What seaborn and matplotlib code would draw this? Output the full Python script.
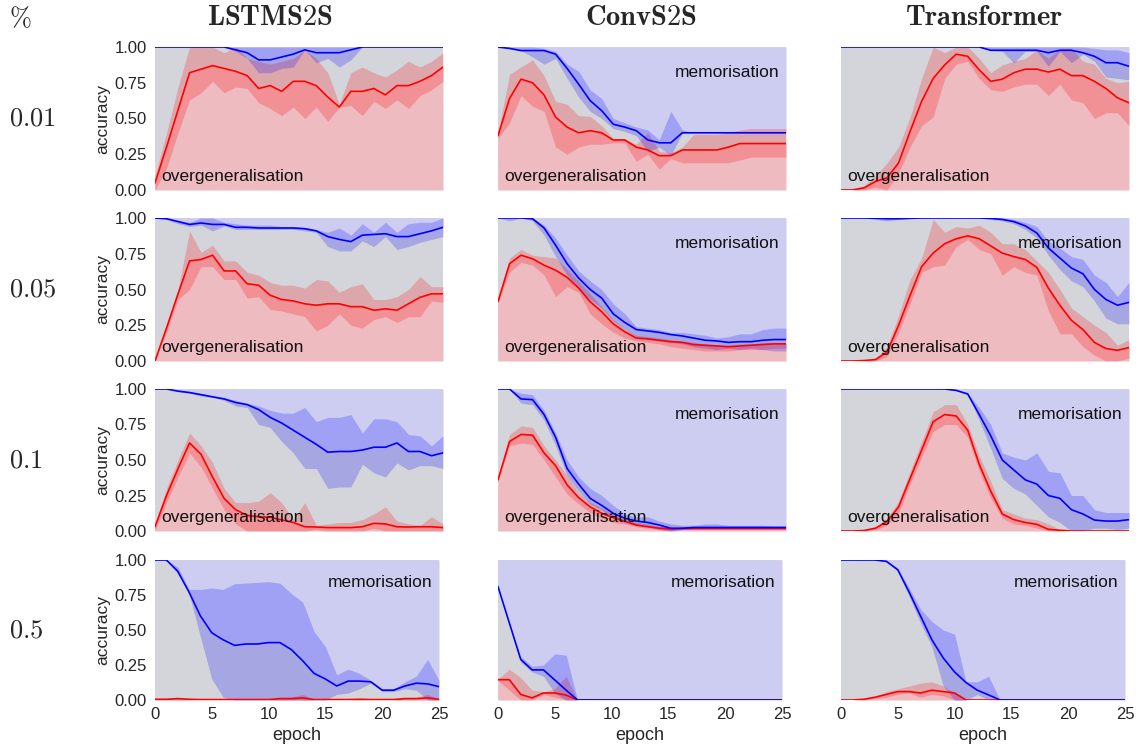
import numpy as np
import pandas as pd
import matplotlib
matplotlib.use('Agg')
import matplotlib.pyplot as plt
import seaborn as sns

sns.set_style('white')
plt.rcParams['font.family'] = ['Liberation Sans', 'DejaVu Sans']
plt.rcParams['mathtext.fontset'] = 'cm'

epochs = list(range(26))
models = ['lstm', 'conv', 'trans']
model_titles = ['LSTMS2S', 'ConvS2S', 'Transformer']
pcts = ['p001', 'p005', 'p01', 'p05']
pct_labels = ['0.01', '0.05', '0.1', '0.5']
yticks = [0.0, 0.25, 0.5, 0.75, 1.0]
ytick_labels = ['0.00', '0.25', '0.50', '0.75', '1.00']
xticks = [0, 5, 10, 15, 20, 25]

# ---- LSTMS2S ----
lstm_p001_over = [0.05, 0.30, 0.56, 0.82, 0.845, 0.87, 0.85, 0.83, 0.80, 0.71, 0.73, 0.69, 0.76, 0.76, 0.73, 0.65, 0.58, 0.69, 0.69, 0.71, 0.665, 0.73, 0.73, 0.76, 0.80, 0.86]
lstm_p001_over_lo = [0.0, 0.15, 0.40, 0.63, 0.68, 0.76, 0.68, 0.72, 0.71, 0.61, 0.57, 0.52, 0.58, 0.50, 0.58, 0.48, 0.58, 0.59, 0.52, 0.62, 0.57, 0.63, 0.57, 0.66, 0.70, 0.76]
lstm_p001_over_hi = [0.10, 0.40, 0.72, 1.0, 1.0, 1.0, 0.96, 1.0, 0.92, 0.90, 0.88, 0.90, 0.92, 0.98, 0.92, 0.82, 0.60, 0.82, 0.86, 0.82, 0.79, 0.84, 0.90, 0.86, 0.90, 0.96]
lstm_p001_mem = [1.0, 1.0, 1.0, 1.0, 1.0, 1.0, 1.0, 0.98, 0.96, 0.91, 0.91, 0.93, 0.95, 0.98, 0.96, 0.96, 0.96, 0.98, 1.0, 1.0, 1.0, 1.0, 1.0, 1.0, 1.0, 1.0]
lstm_p001_mem_lo = [1.0, 1.0, 1.0, 1.0, 1.0, 1.0, 1.0, 0.97, 0.92, 0.82, 0.82, 0.85, 0.86, 0.98, 0.89, 0.92, 0.86, 0.91, 1.0, 1.0, 1.0, 1.0, 1.0, 1.0, 1.0, 1.0]
lstm_p001_mem_hi = [1.0] * 26

lstm_p005_over = [0.0, 0.23, 0.47, 0.70, 0.71, 0.74, 0.63, 0.63, 0.54, 0.53, 0.46, 0.43, 0.42, 0.40, 0.39, 0.40, 0.40, 0.38, 0.38, 0.355, 0.365, 0.355, 0.40, 0.445, 0.47, 0.47]
lstm_p005_over_lo = [0.0, 0.20, 0.43, 0.50, 0.66, 0.66, 0.57, 0.57, 0.44, 0.45, 0.36, 0.35, 0.33, 0.31, 0.21, 0.25, 0.33, 0.25, 0.23, 0.29, 0.31, 0.27, 0.31, 0.31, 0.42, 0.41]
lstm_p005_over_hi = [0.0, 0.25, 0.50, 0.91, 0.76, 0.81, 0.70, 0.70, 0.62, 0.60, 0.55, 0.53, 0.53, 0.51, 0.57, 0.56, 0.48, 0.52, 0.54, 0.43, 0.43, 0.45, 0.50, 0.59, 0.52, 0.52]
lstm_p005_mem = [1.0, 0.995, 0.975, 0.955, 0.965, 0.955, 0.955, 0.935, 0.935, 0.93, 0.93, 0.93, 0.93, 0.925, 0.91, 0.87, 0.85, 0.835, 0.88, 0.885, 0.89, 0.87, 0.87, 0.89, 0.91, 0.935]
lstm_p005_mem_lo = [1.0, 0.99, 0.96, 0.94, 0.95, 0.91, 0.945, 0.92, 0.92, 0.92, 0.92, 0.92, 0.92, 0.91, 0.90, 0.80, 0.77, 0.77, 0.84, 0.80, 0.87, 0.78, 0.80, 0.83, 0.85, 0.87]
lstm_p005_mem_hi = [1.0, 1.0, 0.985, 0.97, 1.0, 1.0, 0.97, 0.96, 0.95, 0.95, 0.95, 0.94, 0.94, 0.935, 0.92, 0.90, 0.93, 0.88, 0.96, 0.90, 0.97, 0.90, 0.96, 0.97, 0.97, 1.0]

lstm_p01_over = [0.03, 0.25, 0.44, 0.62, 0.54, 0.38, 0.23, 0.15, 0.11, 0.10, 0.097, 0.078, 0.06, 0.03, 0.028, 0.024, 0.024, 0.024, 0.03, 0.054, 0.05, 0.03, 0.028, 0.03, 0.03, 0.024]
lstm_p01_over_lo = [0.0, 0.20, 0.38, 0.55, 0.45, 0.30, 0.15, 0.05, 0.0, 0.0, 0.0, 0.0, 0.0, 0.0, 0.01, 0.0, 0.0, 0.0, 0.0, 0.02, 0.0, 0.0, 0.0, 0.0, 0.0, 0.0]
lstm_p01_over_hi = [0.05, 0.30, 0.50, 0.69, 0.60, 0.48, 0.30, 0.20, 0.20, 0.21, 0.27, 0.20, 0.08, 0.20, 0.04, 0.05, 0.06, 0.06, 0.08, 0.12, 0.17, 0.07, 0.05, 0.04, 0.10, 0.05]
lstm_p01_mem = [1.0, 1.0, 0.985, 0.975, 0.96, 0.945, 0.93, 0.905, 0.89, 0.855, 0.80, 0.76, 0.71, 0.66, 0.61, 0.555, 0.56, 0.56, 0.57, 0.59, 0.59, 0.62, 0.56, 0.56, 0.53, 0.55]
lstm_p01_mem_lo = [1.0, 1.0, 0.98, 0.97, 0.95, 0.94, 0.92, 0.88, 0.87, 0.75, 0.73, 0.63, 0.55, 0.44, 0.44, 0.30, 0.31, 0.31, 0.47, 0.41, 0.38, 0.48, 0.43, 0.46, 0.46, 0.44]
lstm_p01_mem_hi = [1.0, 1.0, 0.99, 0.98, 0.97, 0.95, 0.94, 0.92, 0.90, 0.88, 0.85, 0.83, 0.83, 0.87, 0.77, 0.80, 0.80, 0.82, 0.69, 0.79, 0.79, 0.77, 0.68, 0.67, 0.60, 0.67]

lstm_p05_over = [0.005, 0.005, 0.01, 0.005, 0.003, 0.003, 0.003, 0.003, 0.003, 0.003, 0.003, 0.01, 0.01, 0.015, 0.003, 0.003, 0.003, 0.003, 0.005, 0.003, 0.003, 0.003, 0.01, 0.01, 0.015, 0.005]
lstm_p05_over_lo = [0.0] * 26
lstm_p05_over_hi = [0.01, 0.01, 0.02, 0.01, 0.005, 0.005, 0.005, 0.005, 0.005, 0.005, 0.005, 0.015, 0.02, 0.04, 0.005, 0.005, 0.005, 0.005, 0.01, 0.005, 0.005, 0.005, 0.015, 0.02, 0.04, 0.01]
lstm_p05_mem = [1.0, 1.0, 0.92, 0.77, 0.60, 0.48, 0.43, 0.39, 0.40, 0.40, 0.41, 0.41, 0.36, 0.28, 0.19, 0.15, 0.10, 0.135, 0.135, 0.13, 0.07, 0.07, 0.10, 0.12, 0.115, 0.095]
lstm_p05_mem_lo = [1.0, 1.0, 0.90, 0.76, 0.45, 0.15, 0.02, 0.0, 0.0, 0.0, 0.0, 0.0, 0.0, 0.0, 0.0, 0.0, 0.04, 0.05, 0.08, 0.12, 0.06, 0.06, 0.08, 0.07, 0.0, 0.0]
lstm_p05_mem_hi = [1.0, 1.0, 0.95, 0.79, 0.79, 0.80, 0.79, 0.83, 0.835, 0.84, 0.845, 0.835, 0.76, 0.70, 0.49, 0.38, 0.18, 0.22, 0.19, 0.14, 0.08, 0.08, 0.13, 0.17, 0.29, 0.14]

# ---- ConvS2S ----
conv_p001_over = [0.38, 0.64, 0.775, 0.75, 0.665, 0.51, 0.44, 0.40, 0.415, 0.40, 0.35, 0.35, 0.30, 0.28, 0.24, 0.24, 0.28, 0.28, 0.28, 0.28, 0.30, 0.325, 0.325, 0.325, 0.325, 0.325]
conv_p001_over_lo = [0.36, 0.47, 0.66, 0.585, 0.55, 0.30, 0.25, 0.30, 0.32, 0.32, 0.33, 0.33, 0.20, 0.25, 0.145, 0.22, 0.19, 0.19, 0.19, 0.19, 0.19, 0.21, 0.23, 0.23, 0.23, 0.23]
conv_p001_over_hi = [0.40, 0.81, 0.86, 0.91, 0.80, 0.62, 0.60, 0.52, 0.515, 0.45, 0.36, 0.36, 0.32, 0.40, 0.27, 0.26, 0.30, 0.39, 0.39, 0.39, 0.40, 0.42, 0.43, 0.43, 0.43, 0.43]
conv_p001_mem = [1.0, 0.99, 0.975, 0.975, 0.975, 0.95, 0.85, 0.74, 0.625, 0.555, 0.46, 0.44, 0.415, 0.35, 0.33, 0.33, 0.40, 0.40, 0.40, 0.40, 0.40, 0.40, 0.40, 0.40, 0.40, 0.40]
conv_p001_mem_lo = [1.0, 0.99, 0.975, 0.93, 0.88, 0.92, 0.78, 0.65, 0.55, 0.50, 0.43, 0.41, 0.38, 0.27, 0.30, 0.24, 0.40, 0.40, 0.40, 0.40, 0.40, 0.40, 0.40, 0.40, 0.40, 0.40]
conv_p001_mem_hi = [1.0, 1.0, 1.0, 1.0, 0.99, 0.97, 0.88, 0.83, 0.70, 0.64, 0.50, 0.47, 0.44, 0.42, 0.35, 0.55, 0.42, 0.40, 0.40, 0.40, 0.40, 0.40, 0.40, 0.40, 0.40, 0.40]

conv_p005_over = [0.415, 0.68, 0.74, 0.715, 0.67, 0.635, 0.585, 0.51, 0.415, 0.345, 0.26, 0.205, 0.16, 0.155, 0.145, 0.135, 0.13, 0.115, 0.11, 0.105, 0.10, 0.105, 0.11, 0.115, 0.12, 0.12]
conv_p005_over_lo = [0.41, 0.62, 0.69, 0.67, 0.60, 0.45, 0.52, 0.48, 0.33, 0.26, 0.20, 0.16, 0.14, 0.13, 0.12, 0.10, 0.09, 0.08, 0.07, 0.07, 0.07, 0.08, 0.08, 0.08, 0.09, 0.09]
conv_p005_over_hi = [0.42, 0.72, 0.78, 0.74, 0.73, 0.72, 0.64, 0.56, 0.47, 0.38, 0.29, 0.22, 0.18, 0.17, 0.16, 0.15, 0.14, 0.13, 0.12, 0.11, 0.11, 0.12, 0.12, 0.13, 0.13, 0.13]
conv_p005_mem = [1.0, 1.0, 1.0, 0.995, 0.93, 0.81, 0.68, 0.58, 0.50, 0.44, 0.33, 0.27, 0.22, 0.21, 0.20, 0.185, 0.175, 0.16, 0.145, 0.14, 0.13, 0.135, 0.135, 0.145, 0.15, 0.15]
conv_p005_mem_lo = [1.0, 0.98, 1.0, 0.98, 0.88, 0.73, 0.60, 0.50, 0.43, 0.37, 0.28, 0.22, 0.17, 0.15, 0.14, 0.13, 0.12, 0.10, 0.09, 0.08, 0.09, 0.08, 0.09, 0.08, 0.07, 0.07]
conv_p005_mem_hi = [1.0, 1.0, 1.0, 1.0, 0.95, 0.86, 0.74, 0.63, 0.56, 0.50, 0.40, 0.33, 0.24, 0.23, 0.22, 0.20, 0.20, 0.19, 0.18, 0.16, 0.17, 0.19, 0.19, 0.22, 0.23, 0.23]

conv_p01_over = [0.36, 0.63, 0.68, 0.675, 0.55, 0.46, 0.325, 0.235, 0.17, 0.125, 0.094, 0.07, 0.042, 0.03, 0.02, 0.014, 0.018, 0.018, 0.018, 0.018, 0.018, 0.018, 0.018, 0.018, 0.018, 0.018]
conv_p01_over_lo = [0.35, 0.60, 0.62, 0.61, 0.50, 0.38, 0.26, 0.19, 0.13, 0.09, 0.06, 0.05, 0.03, 0.02, 0.01, 0.0, 0.01, 0.01, 0.01, 0.01, 0.01, 0.01, 0.01, 0.01, 0.01, 0.01]
conv_p01_over_hi = [0.37, 0.68, 0.74, 0.73, 0.60, 0.50, 0.39, 0.27, 0.20, 0.16, 0.12, 0.08, 0.06, 0.05, 0.03, 0.03, 0.025, 0.025, 0.025, 0.025, 0.025, 0.025, 0.025, 0.025, 0.025, 0.025]
conv_p01_mem = [1.0, 1.0, 0.93, 0.925, 0.82, 0.66, 0.44, 0.33, 0.23, 0.18, 0.125, 0.09, 0.07, 0.06, 0.042, 0.019, 0.019, 0.025, 0.025, 0.025, 0.025, 0.025, 0.025, 0.025, 0.025, 0.025]
conv_p01_mem_lo = [1.0, 1.0, 0.90, 0.89, 0.78, 0.60, 0.39, 0.28, 0.19, 0.15, 0.09, 0.06, 0.04, 0.03, 0.01, 0.0, 0.01, 0.015, 0.015, 0.015, 0.015, 0.015, 0.015, 0.015, 0.015, 0.015]
conv_p01_mem_hi = [1.0, 1.0, 0.97, 0.96, 0.85, 0.69, 0.50, 0.38, 0.30, 0.25, 0.18, 0.12, 0.10, 0.10, 0.07, 0.05, 0.04, 0.04, 0.05, 0.05, 0.04, 0.04, 0.04, 0.04, 0.035, 0.035]

conv_p05_over = [0.145, 0.145, 0.04, 0.015, 0.05, 0.05, 0.035] + [0.0] * 19
conv_p05_over_lo = [0.14, 0.07, 0.0, 0.0, 0.04, 0.02, 0.0] + [0.0] * 19
conv_p05_over_hi = [0.15, 0.22, 0.16, 0.07, 0.06, 0.08, 0.17] + [0.0] * 19
conv_p05_mem = [0.81, 0.55, 0.29, 0.215, 0.215, 0.143, 0.07] + [0.0] * 19
conv_p05_mem_lo = [0.81, 0.55, 0.27, 0.20, 0.17, 0.05, 0.0] + [0.0] * 19
conv_p05_mem_hi = [0.81, 0.55, 0.31, 0.24, 0.25, 0.33, 0.32] + [0.0] * 19

# ---- Transformer ----
trans_p001_over = [0.0, 0.0, 0.015, 0.06, 0.085, 0.19, 0.41, 0.62, 0.78, 0.875, 0.95, 0.935, 0.84, 0.76, 0.775, 0.82, 0.845, 0.845, 0.825, 0.845, 0.80, 0.80, 0.76, 0.71, 0.645, 0.61]
trans_p001_over_lo = [0.0, 0.0, 0.0, 0.02, 0.0, 0.12, 0.30, 0.45, 0.51, 0.78, 0.88, 0.90, 0.78, 0.70, 0.69, 0.72, 0.74, 0.74, 0.66, 0.74, 0.63, 0.61, 0.50, 0.54, 0.54, 0.45]
trans_p001_over_hi = [0.0, 0.01, 0.03, 0.10, 0.19, 0.30, 0.51, 0.78, 1.0, 0.96, 1.0, 1.0, 0.92, 0.82, 0.875, 0.90, 0.92, 0.98, 0.92, 0.99, 0.99, 0.90, 0.88, 0.78, 0.75, 0.76]
trans_p001_mem = [1.0] * 13 + [0.977, 0.977, 0.977, 0.977, 0.977, 0.96, 0.977, 0.977, 0.96, 0.935, 0.89, 0.89, 0.865]
trans_p001_mem_lo = [1.0] * 13 + [0.975, 0.97, 0.89, 0.97, 0.97, 0.865, 0.97, 0.89, 0.95, 0.90, 0.79, 0.78, 0.77]
trans_p001_mem_hi = [1.0] * 22 + [0.99, 0.98, 0.98, 0.96]

trans_p005_over = [0.0, 0.0, 0.003, 0.01, 0.063, 0.25, 0.46, 0.66, 0.755, 0.82, 0.855, 0.875, 0.855, 0.805, 0.755, 0.73, 0.71, 0.655, 0.51, 0.39, 0.285, 0.22, 0.13, 0.087, 0.075, 0.094]
trans_p005_over_lo = [0.0, 0.0, 0.0, 0.0, 0.03, 0.20, 0.40, 0.62, 0.66, 0.67, 0.80, 0.85, 0.78, 0.75, 0.60, 0.66, 0.62, 0.60, 0.35, 0.19, 0.19, 0.10, 0.04, 0.0, 0.0, 0.02]
trans_p005_over_hi = [0.0, 0.0, 0.005, 0.02, 0.10, 0.32, 0.57, 0.72, 0.99, 0.90, 0.94, 0.93, 0.95, 0.90, 0.82, 0.82, 0.78, 0.70, 0.62, 0.50, 0.37, 0.31, 0.25, 0.20, 0.11, 0.15]
trans_p005_mem = [1.0, 1.0, 1.0, 0.998, 0.995, 0.995, 0.998, 1.0, 1.0, 1.0, 1.0, 1.0, 1.0, 0.997, 0.99, 0.975, 0.945, 0.895, 0.79, 0.72, 0.65, 0.61, 0.50, 0.43, 0.39, 0.41]
trans_p005_mem_lo = [1.0, 1.0, 1.0, 0.99, 0.98, 0.99, 0.995, 1.0, 1.0, 1.0, 1.0, 1.0, 1.0, 0.99, 0.98, 0.96, 0.92, 0.86, 0.74, 0.64, 0.56, 0.52, 0.42, 0.30, 0.26, 0.26]
trans_p005_mem_hi = [1.0] * 15 + [0.99, 0.97, 0.94, 0.84, 0.79, 0.73, 0.71, 0.60, 0.55, 0.45, 0.55]

trans_p01_over = [0.0, 0.0, 0.003, 0.02, 0.066, 0.17, 0.37, 0.57, 0.77, 0.82, 0.81, 0.71, 0.47, 0.28, 0.12, 0.08, 0.06, 0.047, 0.012, 0.005, 0.0, 0.0, 0.0, 0.0, 0.0, 0.0]
trans_p01_over_lo = [0.0, 0.0, 0.0, 0.01, 0.04, 0.13, 0.33, 0.52, 0.70, 0.75, 0.75, 0.66, 0.42, 0.23, 0.09, 0.05, 0.04, 0.02, 0.0, 0.0, 0.0, 0.0, 0.0, 0.0, 0.0, 0.0]
trans_p01_over_hi = [0.0, 0.0, 0.005, 0.03, 0.09, 0.21, 0.42, 0.63, 0.84, 0.89, 0.89, 0.75, 0.53, 0.35, 0.15, 0.12, 0.09, 0.08, 0.05, 0.01, 0.0, 0.0, 0.0, 0.0, 0.0, 0.0]
trans_p01_mem = [1.0] * 10 + [0.99, 0.965, 0.82, 0.67, 0.50, 0.43, 0.36, 0.33, 0.25, 0.23, 0.15, 0.12, 0.077, 0.07, 0.07, 0.08]
trans_p01_mem_lo = [1.0] * 10 + [0.99, 0.96, 0.78, 0.58, 0.37, 0.30, 0.26, 0.18, 0.10, 0.06, 0.0, 0.0, 0.02, 0.02, 0.01, 0.02]
trans_p01_mem_hi = [1.0] * 10 + [1.0, 0.97, 0.87, 0.75, 0.55, 0.52, 0.50, 0.55, 0.42, 0.41, 0.25, 0.25, 0.15, 0.13, 0.13, 0.13]

trans_p05_over = [0.0, 0.0, 0.005, 0.02, 0.04, 0.06, 0.06, 0.05, 0.07, 0.06, 0.05] + [0.0] * 15
trans_p05_over_lo = [0.0, 0.0, 0.0, 0.01, 0.02, 0.04, 0.05, 0.02, 0.04, 0.03, 0.0] + [0.0] * 15
trans_p05_over_hi = [0.0, 0.0, 0.01, 0.025, 0.06, 0.08, 0.10, 0.12, 0.13, 0.10, 0.05] + [0.0] * 15
trans_p05_mem = [1.0, 1.0, 1.0, 1.0, 0.99, 0.93, 0.77, 0.60, 0.43, 0.30, 0.20, 0.125, 0.07, 0.036] + [0.0] * 12
trans_p05_mem_lo = [1.0, 1.0, 1.0, 1.0, 0.99, 0.92, 0.74, 0.55, 0.38, 0.10, 0.0, 0.0, 0.04, 0.0] + [0.0] * 12
trans_p05_mem_hi = [1.0, 1.0, 1.0, 1.0, 1.0, 0.94, 0.80, 0.65, 0.56, 0.50, 0.47, 0.13, 0.13, 0.17] + [0.0] * 12

# which panels carry the region labels
show_over = {'p001': True, 'p005': True, 'p01': True, 'p05': False}
show_mem = {('lstm', 'p05'), ('conv', 'p001'), ('conv', 'p005'), ('conv', 'p01'), ('conv', 'p05'),
            ('trans', 'p005'), ('trans', 'p01'), ('trans', 'p05')}

GREY = '#d4d5da'
PINK = '#eebbc0'
LAVENDER = '#cdcdf1'

W, H = 1140, 747
col_left = [155, 498, 841]
row_top = [47, 218, 389, 560]
row_h = [143, 143, 142, 140]

fig = plt.figure(figsize=(11.4, 7.47), dpi=100)

for i, pct in enumerate(pcts):
    for j, m in enumerate(models):
        key = '{}_{}'.format(m, pct)
        over = np.array(globals()[key + '_over'])
        over_lo = globals()[key + '_over_lo']
        over_hi = globals()[key + '_over_hi']
        mem = np.array(globals()[key + '_mem'])
        mem_lo = globals()[key + '_mem_lo']
        mem_hi = globals()[key + '_mem_hi']

        w = 288 if i < 3 else 284
        ax = fig.add_axes([col_left[j] / W, 1 - (row_top[i] + row_h[i]) / H, w / W, row_h[i] / H])
        ax.set_facecolor(GREY)

        ax.fill_between(epochs, 0, over, color=PINK, lw=0)
        ax.fill_between(epochs, mem, 1, color=LAVENDER, lw=0)
        ax.fill_between(epochs, over_lo, over_hi, color='red', alpha=0.22, lw=0)
        ax.fill_between(epochs, mem_lo, mem_hi, color='blue', alpha=0.22, lw=0)

        df = pd.DataFrame({'epoch': epochs * 2,
                           'accuracy': list(over) + list(mem),
                           'kind': ['over'] * 26 + ['mem'] * 26})
        sns.lineplot(data=df, x='epoch', y='accuracy', hue='kind', errorbar=None,
                     palette={'over': 'red', 'mem': 'blue'}, legend=False, lw=1.2, ax=ax)

        ax.set_xlim(0, 25)
        ax.set_ylim(0, 1)
        sns.despine(ax=ax, left=True, bottom=True)
        ax.tick_params(length=0, labelsize=12, colors='.15')
        ax.tick_params(axis='y', pad=6)
        ax.tick_params(axis='x', pad=5)

        if j == 0:
            ax.set_yticks(yticks)
            ax.set_yticklabels(ytick_labels)
            ax.set_ylabel('accuracy', fontsize=12.5, labelpad=3)
        else:
            ax.set_yticks([])
            ax.set_ylabel('')
        if i == 3:
            ax.set_xticks(xticks)
            ax.set_xlabel('epoch', fontsize=13, labelpad=4)
        else:
            ax.set_xticks([])
            ax.set_xlabel('')

        if show_over[pct]:
            ax.text(0.02, 0.065, 'overgeneralisation', transform=ax.transAxes,
                    fontsize=12.5, va='baseline', ha='left', color='#111111')
        if (m, pct) in show_mem:
            ax.text(0.977, 0.79 if i < 3 else 0.805, 'memorisation', transform=ax.transAxes,
                    fontsize=12.5, va='baseline', ha='right', color='#111111')

# column titles and row labels
title_x = [270, 641, 984]
for j, t in enumerate(model_titles):
    fig.text(title_x[j] / W, 1 - 18 / H, r'$\mathbf{' + t + '}$', fontsize=20.5,
             ha='center', va='center')
fig.text(9 / W, 1 - 18 / H, r'$\%$', fontsize=19, ha='left', va='center')
for i, lab in enumerate(pct_labels):
    yc = row_top[i] + row_h[i] / 2
    fig.text(9 / W, 1 - yc / H, '$' + lab + '$', fontsize=19, ha='left', va='center')

fig.savefig('out.png', dpi=100)
